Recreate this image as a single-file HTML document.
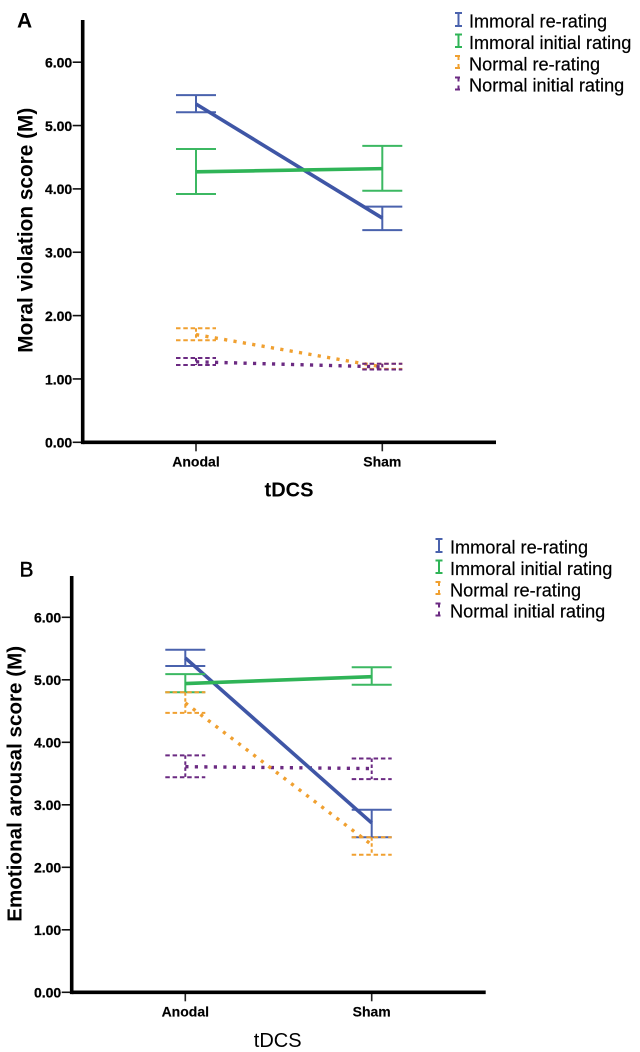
<!DOCTYPE html>
<html lang="en">
<head>
<meta charset="utf-8">
<title>Moral violation and emotional arousal scores by tDCS</title>
<style>
html,body{margin:0;padding:0;background:#fff;width:640px;height:1052px;overflow:hidden}
svg{display:block;filter:blur(0.35px)}
text{font-family:"Liberation Sans",sans-serif;fill:#000}
.ytick{font-size:14px;font-weight:bold;text-anchor:end;stroke:#000;stroke-width:0.25}
.cat{font-size:14px;font-weight:bold;text-anchor:middle;stroke:#000;stroke-width:0.15}
.leg{font-size:18.15px;stroke:#000;stroke-width:0.2}
</style>
</head>
<body>
<svg id="chart" width="640" height="1052" viewBox="0 0 640 1052" xmlns="http://www.w3.org/2000/svg">
  <rect x="0" y="0" width="640" height="1052" fill="#fff"/>
  <text x="17" y="27.5" font-size="21" font-weight="bold">A</text>
  <text x="19.5" y="576.5" font-size="21" stroke="#000" stroke-width="0.4">B</text>
  <text transform="translate(32.5,352.7) rotate(-90)" font-size="20.8" font-weight="bold">Moral violation score (M)</text>
  <text transform="translate(21.7,921.7) rotate(-90)" font-size="20.6" font-weight="bold">Emotional arousal score (M)</text>
  <text x="289" y="496.7" font-size="20" font-weight="bold" text-anchor="middle">tDCS</text>
  <text x="277.7" y="1047" font-size="20" text-anchor="middle">tDCS</text>
  <g id="panelA"></g>
  <g id="panelB"></g>
  <g>
    <g>
      <path d="M455 13h7M458.5 13v13M455 26h7" fill="none" stroke="#4a62ad" stroke-width="2"/>
      <text class="leg" x="469" y="27.7">Immoral re-rating</text>
    </g>
    <g>
      <path d="M455 34.500h7M458.500 34.500v12.500M455 47h7" fill="none" stroke="#2fb457" stroke-width="2"/>
      <text class="leg" x="469" y="49">Immoral initial rating</text>
    </g>
    <g>
      <path d="M455 56h5M458.500 56v4M458.500 64v4M455 68h5" fill="none" stroke="#f0a030" stroke-width="2"/>
      <text class="leg" x="469" y="70.3">Normal re-rating</text>
    </g>
    <g>
      <path d="M455 77.500h5M458.500 77.500v4M458.500 85.500v4M455 89.500h5" fill="none" stroke="#6b2a82" stroke-width="2"/>
      <text class="leg" x="469" y="91.7">Normal initial rating</text>
    </g>
  </g>
  <g>
    <g>
      <path d="M435.500 539h7M439 539v13M435.500 552h7" fill="none" stroke="#4a62ad" stroke-width="2"/>
      <text class="leg" x="450" y="553.3">Immoral re-rating</text>
    </g>
    <g>
      <path d="M435.500 560.500h7M439 560.500v12.500M435.500 573h7" fill="none" stroke="#2fb457" stroke-width="2"/>
      <text class="leg" x="450" y="575">Immoral initial rating</text>
    </g>
    <g>
      <path d="M435.500 582h5M439 582v4M439 590v4M435.500 594h5" fill="none" stroke="#f0a030" stroke-width="2"/>
      <text class="leg" x="450" y="596.3">Normal re-rating</text>
    </g>
    <g>
      <path d="M435.500 603.500h5M439 603.500v4M439 611.500v4M435.500 615.500h5" fill="none" stroke="#6b2a82" stroke-width="2"/>
      <text class="leg" x="450" y="617.7">Normal initial rating</text>
    </g>
  </g>
</svg>
<script>
const categories = ['Anodal', 'Sham'];
const yTickLabels = ['0.00', '1.00', '2.00', '3.00', '4.00', '5.00', '6.00'];
const seriesNames = ['immoral-re-rating', 'immoral-initial-rating', 'normal-re-rating', 'normal-initial-rating'];

const aImmoralReMean = [5.34, 3.54];
const aImmoralReUpper = [5.48, 3.72];
const aImmoralReLower = [5.21, 3.35];
const aImmoralInitMean = [4.27, 4.32];
const aImmoralInitUpper = [4.63, 4.68];
const aImmoralInitLower = [3.92, 3.97];
const aNormalReMean = [1.70, 1.19];
const aNormalReUpper = [1.80, 1.24];
const aNormalReLower = [1.61, 1.16];
const aNormalInitMean = [1.27, 1.19];
const aNormalInitUpper = [1.33, 1.24];
const aNormalInitLower = [1.22, 1.15];

const bImmoralReMean = [5.35, 2.71];
const bImmoralReUpper = [5.48, 2.92];
const bImmoralReLower = [5.22, 2.48];
const bImmoralInitMean = [4.94, 5.05];
const bImmoralInitUpper = [5.09, 5.20];
const bImmoralInitLower = [4.80, 4.92];
const bNormalReMean = [4.63, 2.36];
const bNormalReUpper = [4.80, 2.48];
const bNormalReLower = [4.47, 2.20];
const bNormalInitMean = [3.61, 3.58];
const bNormalInitUpper = [3.79, 3.74];
const bNormalInitLower = [3.44, 3.41];

const NS = 'http://www.w3.org/2000/svg';
const seriesColors = ['#3f56a6', '#2fb457', '#f0a030', '#6b2a82'];
const capColors = ['#4a62ad', '#3cb862', '#f0a030', '#6b2a82'];

function add(parent, tag, attrs) {
  const el = document.createElementNS(NS, tag);
  for (const k in attrs) el.setAttribute(k, attrs[k]);
  parent.appendChild(el);
  return el;
}

function drawPanel(rootId, prefix, g, series, order) {
  const root = document.getElementById(rootId);
  const y = v => g.y0 - v * g.unit;
  const x = i => g.xs[i];

  // y ticks + labels
  yTickLabels.forEach(function (label) {
    const v = parseFloat(label);
    const tick = add(root, 'line', {x1: g.axisX - 10, x2: g.axisX, y1: y(v), y2: y(v), stroke: '#111', 'stroke-width': 1.6});
    
    
    const t = add(root, 'text', {class: 'ytick', x: g.axisX - 10.5, y: y(v) + 5.3});
    t.textContent = label;
    
    
  });

  // x ticks + labels
  categories.forEach(function (label, i) {
    const tick = add(root, 'line', {x1: x(i), x2: x(i), y1: g.y0, y2: g.y0 + 9, stroke: '#222', 'stroke-width': 1.6});
    
    
    const t = add(root, 'text', {class: 'cat', x: x(i), y: g.y0 + 24});
    t.textContent = label;
    
    
  });

  // axes
  const yAxis = add(root, 'line', {x1: g.axisX, x2: g.axisX, y1: g.top, y2: g.y0 + 1.8, stroke: '#000', 'stroke-width': 3.6});
  
  
  const xAxis = add(root, 'line', {x1: g.axisX, x2: g.right, y1: g.y0, y2: g.y0, stroke: '#000', 'stroke-width': 3.6});
  
  

  // series
  order.forEach(function (s) {
    const d = series[s];
    const dashed = s >= 2;
    const grp = add(root, 'g', {});
    
    
    categories.forEach(function (c, i) {
      const capStyle = {stroke: capColors[s], 'stroke-width': 2, fill: 'none'};
      if (dashed) capStyle['stroke-dasharray'] = '4.5 2.8';
      const up = add(grp, 'line', Object.assign({x1: x(i) - 20, x2: x(i) + 20, y1: y(d.upper[i]), y2: y(d.upper[i])}, capStyle));
      
      
      const lo = add(grp, 'line', Object.assign({x1: x(i) - 20, x2: x(i) + 20, y1: y(d.lower[i]), y2: y(d.lower[i])}, capStyle));
      
      
      const stemStyle = {stroke: capColors[s], 'stroke-width': 2, fill: 'none'};
      if (dashed) stemStyle['stroke-dasharray'] = '3.5 2.5';
      const stem = add(grp, 'line', Object.assign({x1: x(i), x2: x(i), y1: y(d.upper[i]), y2: y(d.lower[i])}, stemStyle));
      
      
    });
    const lineStyle = dashed
      ? {stroke: seriesColors[s], 'stroke-width': 3.4, 'stroke-dasharray': '3.2 6.3', fill: 'none'}
      : {stroke: seriesColors[s], 'stroke-width': 3.6, fill: 'none'};
    const ln = add(grp, 'line', Object.assign({x1: x(0), y1: y(d.mean[0]), x2: x(1), y2: y(d.mean[1])}, lineStyle));
    
    
  });
}

drawPanel('panelA', 'panel-a',
  {axisX: 82.7, top: 20, y0: 442.3, unit: 63.35, right: 496, xs: [196, 382.3]},
  [
    {mean: aImmoralReMean, upper: aImmoralReUpper, lower: aImmoralReLower},
    {mean: aImmoralInitMean, upper: aImmoralInitUpper, lower: aImmoralInitLower},
    {mean: aNormalReMean, upper: aNormalReUpper, lower: aNormalReLower},
    {mean: aNormalInitMean, upper: aNormalInitUpper, lower: aNormalInitLower}
  ],
  [0, 1, 2, 3]);

drawPanel('panelB', 'panel-b',
  {axisX: 71.7, top: 576, y0: 992.3, unit: 62.5, right: 485.7, xs: [185.3, 371.7]},
  [
    {mean: bImmoralReMean, upper: bImmoralReUpper, lower: bImmoralReLower},
    {mean: bImmoralInitMean, upper: bImmoralInitUpper, lower: bImmoralInitLower},
    {mean: bNormalReMean, upper: bNormalReUpper, lower: bNormalReLower},
    {mean: bNormalInitMean, upper: bNormalInitUpper, lower: bNormalInitLower}
  ],
  [3, 0, 1, 2]);
</script>
</body>
</html>
